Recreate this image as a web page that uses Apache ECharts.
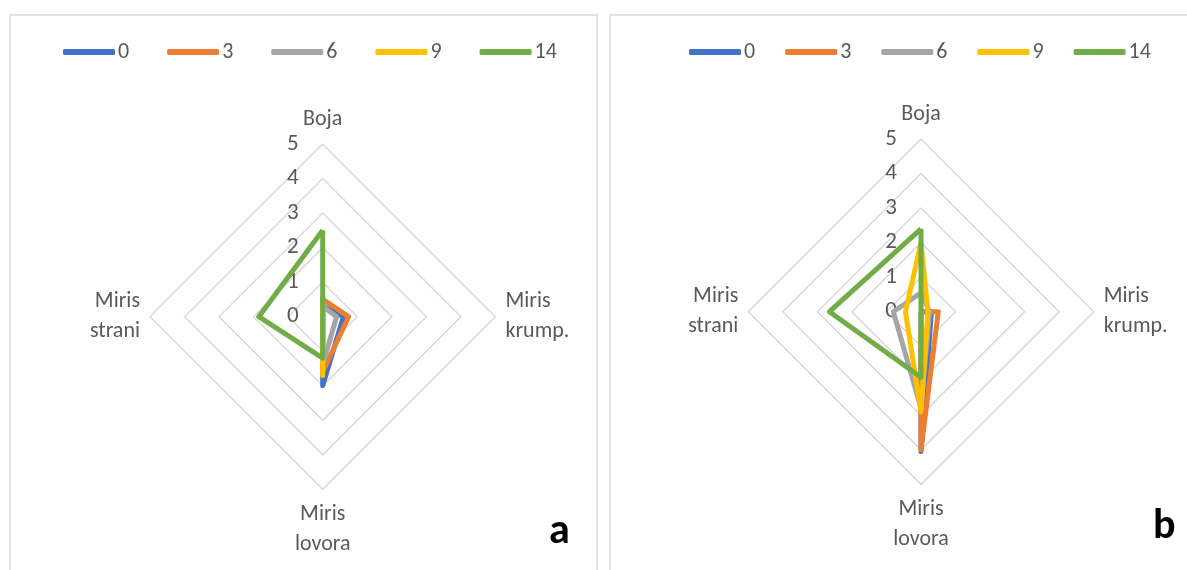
<!DOCTYPE html>
<html>
<head>
<meta charset="utf-8">
<script src="https://cdn.jsdelivr.net/npm/echarts@6/dist/echarts.min.js"></script>
<style>
  html, body { margin: 0; padding: 0; background: #fff; }
  #main { width: 1187px; height: 570px; }
</style>
</head>
<body>
<div id="main"></div>
<script>
// categories in clockwise order starting from the top
const categories = ['Boja', 'Miris\nkrump.', 'Miris\nlovora', 'Miris\nstrani'];
const seriesNames = ['0', '3', '6', '9', '14'];
const tickLabels = ['0', '1', '2', '3', '4', '5'];

// panel a
const a0 = [0.3, 0.6, 2.0, 0];
const a3 = [0.5, 0.75, 1.6, 0];
const a6 = [0.3, 0.4, 1.4, 0];
const a9 = [0.6, 0, 1.7, 0];
const a14 = [2.5, 0, 1.2, 1.85];

// panel b
const b0 = [0, 0.3, 4.05, 0];
const b3 = [0, 0.5, 4.0, 0];
const b6 = [0.55, 0.25, 2.8, 0.8];
const b9 = [2.0, 0.2, 2.9, 0.45];
const b14 = [2.4, 0, 1.9, 2.65];

const colors = ['#4472C4', '#ED7D31', '#A5A5A5', '#FFC000', '#70AD47'];
const font = 'Carlito, Lato, sans-serif';

// echarts goes counterclockwise, so reorder: top, left, bottom, right
const order = [0, 3, 2, 1];
const reorder = (arr) => order.map((i) => arr[i]);

function makeRadar(center) {
  return {
    center: center,
    radius: 172.7,
    startAngle: 90,
    shape: 'polygon',
    splitNumber: 5,
    axisName: {
      color: '#595959',
      fontSize: 22,
      fontFamily: font,
      lineHeight: 30,
    },
    nameGap: 10,
    indicator: order.map((i, k) => {
      const ind = { name: categories[i], min: 0, max: 5 };
      if (k === 0) {
        ind.axisLabel = {
          show: true,
          color: '#595959',
          fontSize: 23,
          fontFamily: font,
          margin: 24,
          formatter: (v) => tickLabels[Math.round(v)],
        };
      }
      return ind;
    }),
    axisLabel: { show: false },
    axisLine: { show: false },
    axisTick: { show: false },
    splitLine: { lineStyle: { color: '#D9D9D9', width: 1.5 } },
    splitArea: { show: false },
  };
}

function makeSeries(radarIndex, lists) {
  return {
    type: 'radar',
    radarIndex: radarIndex,
    symbol: 'none',
    silent: true,
    data: lists.map((vals, i) => ({
      name: seriesNames[i],
      value: reorder(vals),
      lineStyle: { color: colors[i], width: 5, join: 'round' },
      itemStyle: { color: colors[i] },
    })),
  };
}

function makeLegend(left, gap) {
  return {
    left: left,
    top: 36,
    icon: 'roundRect',
    itemWidth: 52,
    itemHeight: 6,
    itemGap: gap,
    textStyle: { color: '#595959', fontSize: 22, fontFamily: font, padding: [0, 0, 0, -2] },
    data: seriesNames,
  };
}

const chart = echarts.init(document.getElementById('main'), null, { renderer: 'canvas' });
chart.setOption({
  animation: false,
  color: colors,
  legend: [makeLegend(58, 38), makeLegend(684, 30)],
  radar: [makeRadar([322.7, 316.7]), makeRadar([921, 311.7])],
  series: [
    makeSeries(0, [a0, a3, a6, a9, a14]),
    makeSeries(1, [b0, b3, b6, b9, b14]),
  ],
  title: [
    { text: 'a', left: 544, top: 506, textStyle: { fontSize: 42, fontWeight: 'bold', color: '#000', fontFamily: font } },
    { text: 'b', left: 1148, top: 501, textStyle: { fontSize: 42, fontWeight: 'bold', color: '#000', fontFamily: font } },
  ],
  graphic: [
    { type: 'rect', shape: { x: 10, y: 15, width: 587, height: 570 }, style: { fill: 'none', stroke: '#D9D9D9', lineWidth: 1.5 }, z: -1 },
    { type: 'rect', shape: { x: 610, y: 15, width: 600, height: 570 }, style: { fill: 'none', stroke: '#D9D9D9', lineWidth: 1.5 }, z: -1 },
  ],
});
</script>
</body>
</html>
